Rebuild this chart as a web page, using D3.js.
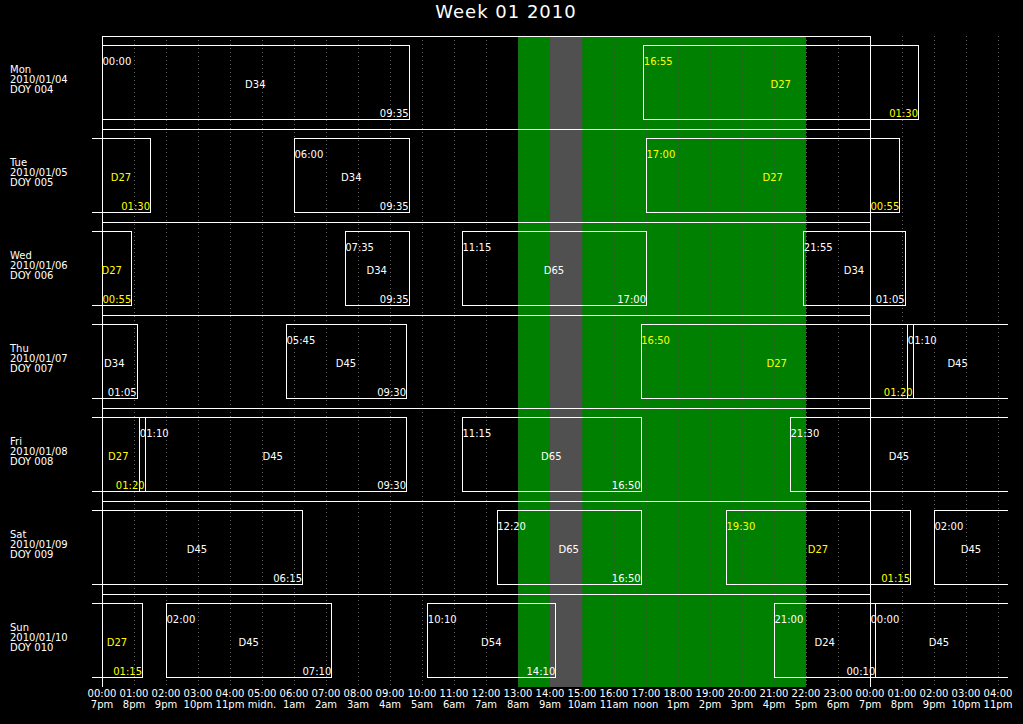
<!DOCTYPE html>
<html>
<head>
<meta charset="utf-8">
<script src="https://cdn.jsdelivr.net/npm/d3@7"></script>
<style>
  html, body { margin: 0; padding: 0; background: #000; }
  svg { display: block; }
  text { font-family: "DejaVu Sans", sans-serif; font-size: 10px; fill: #fff; }
</style>
</head>
<body>
<svg id="chart" width="1023" height="724"></svg>
<script>
// Row labels
const days = ['Mon', 'Tue', 'Wed', 'Thu', 'Fri', 'Sat', 'Sun'];
const dates = ['2010/01/04', '2010/01/05', '2010/01/06', '2010/01/07', '2010/01/08', '2010/01/09', '2010/01/10'];
const doys = ['004', '005', '006', '007', '008', '009', '010'];

// Hour ticks, UTC on top line and local time below
const hours = [0, 1, 2, 3, 4, 5, 6, 7, 8, 9, 10, 11, 12, 13, 14, 15, 16, 17, 18, 19, 20, 21, 22, 23, 24, 25, 26, 27, 28];
const utcLabels = ['00:00', '01:00', '02:00', '03:00', '04:00', '05:00', '06:00', '07:00', '08:00', '09:00',
    '10:00', '11:00', '12:00', '13:00', '14:00', '15:00', '16:00', '17:00', '18:00', '19:00', '20:00',
    '21:00', '22:00', '23:00', '00:00', '01:00', '02:00', '03:00', '04:00'];
const localLabels = ['7pm', '8pm', '9pm', '10pm', '11pm', 'midn.', '1am', '2am', '3am', '4am', '5am', '6am',
    '7am', '8am', '9am', '10am', '11am', 'noon', '1pm', '2pm', '3pm', '4pm', '5pm', '6pm', '7pm', '8pm',
    '9pm', '10pm', '11pm'];

// Shaded windows (hours)
const greenBand = [13, 22];
const grayBand = [14, 15];

// Passes: row, satellite, start day offset, start, end day offset, end
const passes = [
    [0, 'D34', 0, '00:00', 0, '09:35'],
    [0, 'D27', 0, '16:55', 1, '01:30'],
    [1, 'D27', -1, '16:55', 0, '01:30'],
    [1, 'D34', 0, '06:00', 0, '09:35'],
    [1, 'D27', 0, '17:00', 1, '00:55'],
    [2, 'D27', -1, '17:00', 0, '00:55'],
    [2, 'D34', 0, '07:35', 0, '09:35'],
    [2, 'D65', 0, '11:15', 0, '17:00'],
    [2, 'D34', 0, '21:55', 1, '01:05'],
    [3, 'D34', -1, '21:55', 0, '01:05'],
    [3, 'D45', 0, '05:45', 0, '09:30'],
    [3, 'D27', 0, '16:50', 1, '01:20'],
    [3, 'D45', 1, '01:10', 1, '09:30'],
    [4, 'D27', -1, '16:50', 0, '01:20'],
    [4, 'D45', 0, '01:10', 0, '09:30'],
    [4, 'D65', 0, '11:15', 0, '16:50'],
    [4, 'D45', 0, '21:30', 1, '06:15'],
    [5, 'D45', -1, '21:30', 0, '06:15'],
    [5, 'D65', 0, '12:20', 0, '16:50'],
    [5, 'D27', 0, '19:30', 1, '01:15'],
    [5, 'D45', 1, '02:00', 1, '07:10'],
    [6, 'D27', -1, '19:30', 0, '01:15'],
    [6, 'D45', 0, '02:00', 0, '07:10'],
    [6, 'D54', 0, '10:10', 0, '14:10'],
    [6, 'D24', 0, '21:00', 1, '00:10'],
    [6, 'D45', 1, '00:00', 1, '09:00']
];

const highlightSat = 'D27';

const toHours = (dayOff, t) => {
    const [h, m] = t.split(':').map(Number);
    return dayOff * 24 + h + m / 60;
};

const svg = d3.select('#chart');
svg.append('rect').attr('width', 1023).attr('height', 724).attr('fill', '#000');

const x = d3.scaleLinear().domain([0, 28]).range([102, 998]);
const y = d3.scaleBand().domain(days).range([36, 687]);
const plotTop = y.range()[0], plotBottom = y.range()[1];
const clipLo = x(-0.3125), clipHi = x(28.31);

const defs = svg.append('defs');
defs.append('clipPath').attr('id', 'plotClip')
    .append('rect').attr('x', clipLo).attr('y', 0).attr('width', clipHi - clipLo).attr('height', 724);
defs.append('clipPath').attr('id', 'greenClip')
    .append('rect').attr('x', x(greenBand[0])).attr('y', plotTop)
    .attr('width', x(greenBand[1]) - x(greenBand[0])).attr('height', plotBottom - plotTop);

// Title
svg.append('text')
    .attr('x', 506).attr('y', 18)
    .attr('text-anchor', 'middle')
    .style('font-size', '18px')
    .style('letter-spacing', '1px')
    .text('Week 01 2010');

// Hour gridlines (dotted)
const gridHours = hours.filter(h => h > 0 && h !== 24);
const drawGrid = (color, clip) => {
    const g = svg.append('g');
    if (clip) g.attr('clip-path', 'url(#greenClip)');
    g.selectAll('line').data(gridHours).enter().append('line')
        .attr('x1', d => x(d) + 0.5).attr('x2', d => x(d) + 0.5)
        .attr('y1', plotTop).attr('y2', plotBottom)
        .attr('stroke', color)
        .attr('stroke-width', 1)
        .attr('stroke-dasharray', '1,3');
};
drawGrid('#646464', false);

// Shaded bands
svg.append('rect')
    .attr('x', x(greenBand[0])).attr('y', plotTop)
    .attr('width', x(greenBand[1]) - x(greenBand[0])).attr('height', plotBottom - plotTop)
    .attr('fill', '#008000');
drawGrid('#2f662f', true);
svg.append('rect')
    .attr('x', x(grayBand[0])).attr('y', plotTop)
    .attr('width', x(grayBand[1]) - x(grayBand[0])).attr('height', plotBottom - plotTop)
    .attr('fill', '#505050');

// Frame: row separators and the two day borders
svg.append('g').selectAll('line').data(days).enter().append('line')
    .attr('x1', x(0)).attr('x2', x(24))
    .attr('y1', d => y(d) + 0.5).attr('y2', d => y(d) + 0.5)
    .attr('stroke', '#fff');
svg.append('g').selectAll('line').data([0, 24]).enter().append('line')
    .attr('x1', d => x(d) + 0.5).attr('x2', d => x(d) + 0.5)
    .attr('y1', plotTop).attr('y2', plotBottom)
    .attr('stroke', '#fff');

// Pass boxes
const passData = passes.map(p => {
    const s = toHours(p[2], p[3]);
    const e = toHours(p[4], p[5]);
    return {row: days[p[0]], sat: p[1], start: p[3], end: p[5], xs: x(s), xe: x(e)};
});

const boxes = svg.append('g').attr('clip-path', 'url(#plotClip)');
boxes.selectAll('rect').data(passData).enter().append('rect')
    .attr('x', d => Math.round(d.xs) + 0.5)
    .attr('y', d => y(d.row) + 9.5)
    .attr('width', d => Math.round(d.xe) - Math.round(d.xs))
    .attr('height', 74)
    .attr('fill', 'none')
    .attr('stroke', '#fff');

const labels = svg.append('g');
const colorOf = d => d.sat === highlightSat ? '#ffff00' : '#fff';

labels.selectAll('.start').data(passData.filter(d => d.xs >= clipLo)).enter().append('text')
    .attr('x', d => d.xs + 0.5).attr('y', d => y(d.row) + 29)
    .style('fill', colorOf)
    .text(d => d.start);

labels.selectAll('.mid').data(passData).enter().append('text')
    .attr('x', d => (Math.max(d.xs, clipLo) + Math.min(d.xe, clipHi)) / 2)
    .attr('y', d => y(d.row) + 51.5)
    .attr('text-anchor', 'middle')
    .style('fill', colorOf)
    .text(d => d.sat);

labels.selectAll('.end').data(passData.filter(d => d.xe <= clipHi)).enter().append('text')
    .attr('x', d => d.xe).attr('y', d => y(d.row) + 80.5)
    .attr('text-anchor', 'end')
    .style('fill', colorOf)
    .text(d => d.end);

// Day labels on the left
const dayLabels = svg.append('g').selectAll('text').data(days).enter().append('text')
    .attr('x', 10).attr('y', d => y(d) + 37);
dayLabels.append('tspan').attr('x', 10).text(d => d);
dayLabels.append('tspan').attr('x', 10).attr('dy', 10).text((d, i) => dates[i]);
dayLabels.append('tspan').attr('x', 10).attr('dy', 10).text((d, i) => 'DOY ' + doys[i]);

// Bottom hour labels
const ticks = svg.append('g').selectAll('text').data(hours).enter().append('text')
    .attr('x', d => x(d)).attr('y', 697)
    .attr('text-anchor', 'middle');
ticks.append('tspan').attr('x', d => x(d)).text((d, i) => utcLabels[i]);
ticks.append('tspan').attr('x', d => x(d)).attr('dy', 10.5).text((d, i) => localLabels[i]);
</script>
</body>
</html>
